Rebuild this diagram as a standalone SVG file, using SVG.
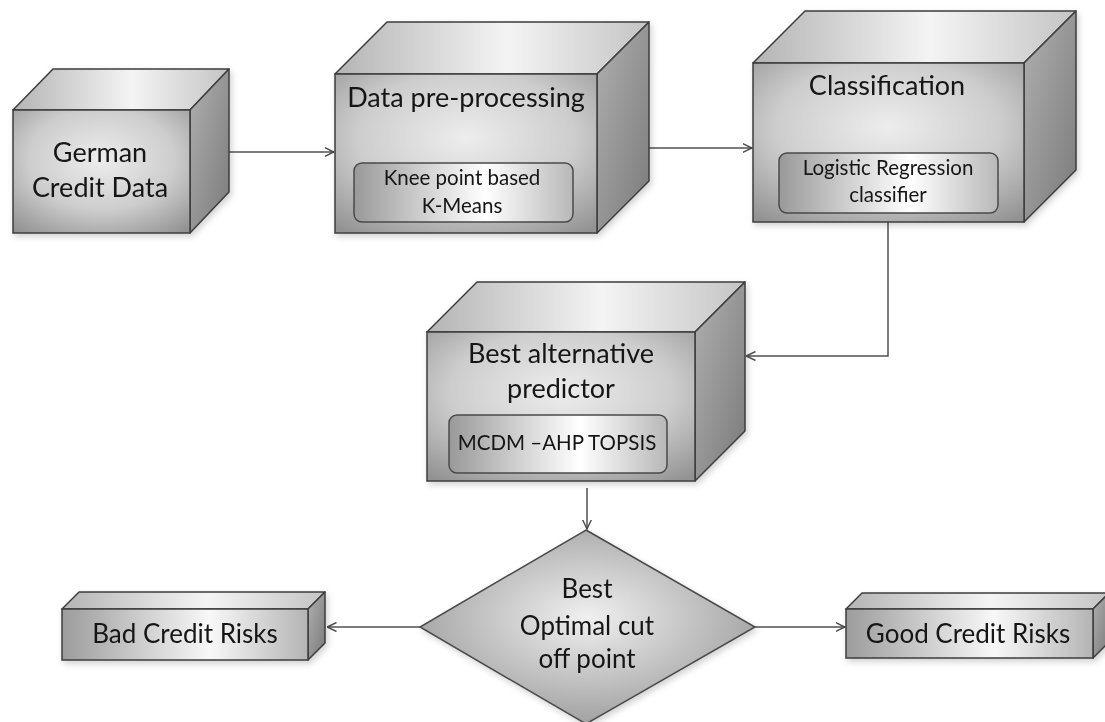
<svg xmlns="http://www.w3.org/2000/svg" width="1105" height="722" viewBox="0 0 1105 722">
<defs>
  <radialGradient id="gFront" cx="0.5" cy="0.4" r="0.75">
    <stop offset="0" stop-color="#ededed"/>
    <stop offset="0.55" stop-color="#cdcdcd"/>
    <stop offset="1" stop-color="#929292"/>
  </radialGradient>
  <linearGradient id="gTop" x1="0" y1="0" x2="1" y2="0">
    <stop offset="0" stop-color="#b4b4b4"/>
    <stop offset="0.55" stop-color="#f4f4f4"/>
    <stop offset="1" stop-color="#c4c4c4"/>
  </linearGradient>
  <linearGradient id="gSide" x1="0" y1="0" x2="1" y2="1">
    <stop offset="0" stop-color="#b0b0b0"/>
    <stop offset="1" stop-color="#7a7a7a"/>
  </linearGradient>
  <linearGradient id="gInner" x1="0" y1="0" x2="1" y2="0">
    <stop offset="0" stop-color="#999999"/>
    <stop offset="0.35" stop-color="#d6d6d6"/>
    <stop offset="0.6" stop-color="#ffffff"/>
    <stop offset="1" stop-color="#b8b8b8"/>
  </linearGradient>
  <linearGradient id="gFlat" x1="0" y1="0" x2="1" y2="0">
    <stop offset="0" stop-color="#9c9c9c"/>
    <stop offset="0.6" stop-color="#f8f8f8"/>
    <stop offset="1" stop-color="#b4b4b4"/>
  </linearGradient>
  <radialGradient id="gDiamond" cx="0.5" cy="0.45" r="0.6">
    <stop offset="0" stop-color="#f0f0f0"/>
    <stop offset="1" stop-color="#9a9a9a"/>
  </radialGradient>
  <filter id="shadow" x="-10%" y="-10%" width="125%" height="130%">
    <feDropShadow dx="2" dy="3" stdDeviation="3" flood-color="#000" flood-opacity="0.18"/>
  </filter>
  <marker id="arr" viewBox="0 0 10 10" refX="9.5" refY="5" markerWidth="10" markerHeight="10" markerUnits="userSpaceOnUse" orient="auto">
    <path d="M0,0.5 L9.5,5 L0,9.5" fill="none" stroke="#4a4a4a" stroke-width="1.4"/>
  </marker>
</defs>
<style>
  .front { fill: url(#gFront); stroke: #3c3c3c; stroke-width: 1.5; }
  .top { fill: url(#gTop); stroke: #3c3c3c; stroke-width: 1.5; stroke-linejoin: round; }
  .side { fill: url(#gSide); stroke: #3c3c3c; stroke-width: 1.5; stroke-linejoin: round; }
  .flat { fill: url(#gFlat); stroke: #3c3c3c; stroke-width: 1.5; }
  .inner { fill: url(#gInner); stroke: #4a4a4a; stroke-width: 1.5; }
  .diamond { fill: url(#gDiamond); stroke: #4a4a4a; stroke-width: 1.5; }
  .conn { fill: none; stroke: #505050; stroke-width: 1.5; marker-end: url(#arr); }
  text { font-family: "Lato", "Open Sans", "Liberation Sans", sans-serif; fill: #151515; text-anchor: middle; }
  .big { font-size: 27px; }
  .mid { font-size: 26px; }
  .small { font-size: 20.5px; }
</style>

<g id="connectors">
  <path class="conn" d="M229,152 L334,152"/>
  <path class="conn" d="M649,148 L752,148"/>
  <path class="conn" d="M888,222 L888,356 L746,356"/>
  <path class="conn" d="M587,488 L587,529"/>
  <path class="conn" d="M420,627 L327,627"/>
  <path class="conn" d="M755,627 L845,627"/>
</g>

<g id="german" filter="url(#shadow)">
  <polygon class="top" points="13,110 53,69 229,69 190,110"/>
  <polygon class="side" points="190,110 229,69 229,192 190,233"/>
  <rect class="front" x="13" y="110" width="177" height="123"/>
  <text class="big" x="100" y="162">German</text>
  <text class="big" x="100" y="197">Credit Data</text>
</g>

<g id="preprocessing" filter="url(#shadow)">
  <polygon class="top" points="335,74 387,22 649,22 597,74"/>
  <polygon class="side" points="597,74 649,22 649,181 597,233"/>
  <rect class="front" x="335" y="74" width="262" height="159"/>
  <text class="big" x="466" y="107">Data pre-processing</text>
  <rect class="inner" x="354" y="163" width="219" height="59" rx="8"/>
  <text class="small" x="462" y="185">Knee point based</text>
  <text class="small" x="462" y="213">K-Means</text>
</g>

<g id="classification" filter="url(#shadow)">
  <polygon class="top" points="753,63 805,11 1076,11 1024,63"/>
  <polygon class="side" points="1024,63 1076,11 1076,170 1024,222"/>
  <rect class="front" x="753" y="63" width="271" height="159"/>
  <text class="big" x="887" y="95">Classification</text>
  <rect class="inner" x="779" y="153" width="219" height="60" rx="8"/>
  <text class="small" x="888" y="175">Logistic Regression</text>
  <text class="small" x="888" y="202">classifier</text>
</g>

<g id="bestalt" filter="url(#shadow)">
  <polygon class="top" points="427,332 477,282 745,282 695,332"/>
  <polygon class="side" points="695,332 745,282 745,431 695,481"/>
  <rect class="front" x="427" y="332" width="268" height="149"/>
  <text class="big" x="561" y="363">Best alternative</text>
  <text class="big" x="561" y="398">predictor</text>
  <rect class="inner" x="449" y="415" width="218" height="58" rx="8"/>
  <text class="small" x="557" y="450">MCDM –AHP TOPSIS</text>
</g>

<g id="cutoff" filter="url(#shadow)">
  <polygon class="diamond" points="586,530 755,627 586,724 420,627"/>
  <text class="mid" x="587" y="598">Best</text>
  <text class="mid" x="587" y="635">Optimal cut</text>
  <text class="mid" x="587" y="668">off point</text>
</g>

<g id="bad" filter="url(#shadow)">
  <polygon class="top" points="62,609 79,592 325,592 308,609"/>
  <polygon class="side" points="308,609 325,592 325,643 308,660"/>
  <rect class="flat" x="62" y="609" width="246" height="51"/>
  <text class="mid" x="185" y="643">Bad Credit Risks</text>
</g>

<g id="good" filter="url(#shadow)">
  <polygon class="top" points="846,609 862,593 1109,593 1093,609"/>
  <polygon class="side" points="1093,609 1109,593 1109,642 1093,658"/>
  <rect class="flat" x="846" y="609" width="247" height="49"/>
  <text class="mid" x="968" y="643">Good Credit Risks</text>
</g>
</svg>
